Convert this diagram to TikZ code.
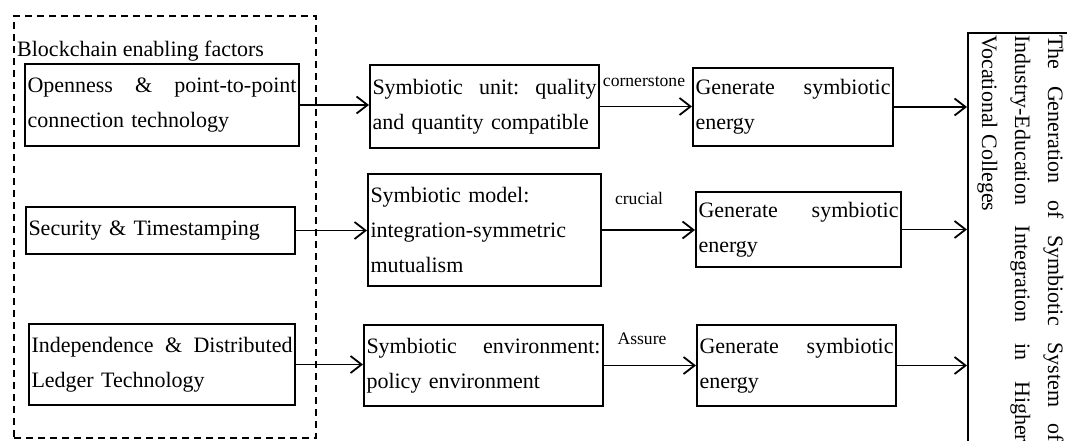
\documentclass[tikz,border=0pt]{standalone}
\usepackage{fontspec}
\setmainfont{Liberation Serif}
\usetikzlibrary{arrows.meta}
\tikzset{
  box/.style={draw, line width=2pt, inner xsep=2.5pt, inner ysep=0pt, align=left,
    anchor=north west, font=\fontsize{22}{35}\selectfont},
  frame/.style={draw, line width=1.7pt, dash pattern=on 7pt off 5pt, anchor=north west, inner sep=0pt},
  lbl/.style={inner sep=0pt, anchor=base, font=\fontsize{17.6}{20}\selectfont},
  ttl/.style={inner sep=0pt, anchor=base west, font=\fontsize{22}{33}\selectfont},
  vline/.style={inner sep=0pt, anchor=base west, rotate=-90, font=\fontsize{22}{33}\selectfont},
  arr/.style={line width=1.8pt, -{Straight Barb[length=11pt,width=17pt,line width=1.8pt]}}
}
\begin{document}
\begin{tikzpicture}[x=1pt,y=-1pt]
\useasboundingbox (0,0) rectangle (1067,441);
\clip (0,0) rectangle (1067,441);
% group frame
\node[frame, minimum width=302pt, minimum height=422pt] (grp) at (13,15) {};
\node[ttl] (grptitle) at (17,57) {Blockchain enabling factors};
% left boxes
\node[box, text width=269pt, minimum height=82pt] (b1) at (24,63)
  {Openness\hfill\&\hfill point-to-point\\connection technology};
\node[box, text width=264pt, minimum height=47pt] (b2) at (25,206)
  {Security \& Timestamping};
\node[box, text width=261pt, minimum height=81pt] (b3) at (28,323)
  {Independence\hfill\&\hfill Distributed\\Ledger Technology};
% middle boxes
\node[box, text width=224pt, minimum height=83pt] (s1) at (369,64)
  {Symbiotic\hfill unit:\hfill quality\\and quantity compatible};
\node[box, text width=228pt, minimum height=112pt] (s2) at (367,173)
  {Symbiotic model:\\integration-symmetric\\mutualism};
\node[box, text width=234pt, minimum height=81pt] (s3) at (363,324)
  {Symbiotic\hfill environment:\\policy environment};
% generate boxes
\node[box, text width=195pt, minimum height=78pt] (g1) at (692,67)
  {Generate\hfill symbiotic\\energy};
\node[box, text width=200pt, minimum height=75pt] (g2) at (695,191)
  {Generate\hfill symbiotic\\energy};
\node[box, text width=194pt, minimum height=81pt] (g3) at (696,324)
  {Generate\hfill symbiotic\\energy};
% goal box
\node[draw, line width=2.4pt, anchor=north west, inner sep=0pt,
  minimum width=130pt, minimum height=440pt] (goal) at (967,32) {};
\node[vline] (t1) at (1048,35) {\makebox[407pt][s]{The Generation of Symbiotic System of}};
\node[vline] (t2) at (1015,35) {\makebox[407pt][s]{Industry-Education Integration in Higher}};
\node[vline] (t3) at (982,35) {Vocational Colleges};
% labels
\node[lbl] (l1) at (644,87) {cornerstone};
\node[lbl] (l2) at (639,204) {crucial};
\node[lbl] (l3) at (642,344) {Assure};
% connectors
\draw[arr] (b1.east) -- (b1.east -| s1.west);
\draw[arr] (b2.east) -- (b2.east -| s2.west);
\draw[arr] (b3.east) -- (b3.east -| s3.west);
\draw[arr] (s1.east) -- (s1.east -| g1.west);
\draw[arr] (s2.east) -- (s2.east -| g2.west);
\draw[arr] (s3.east) -- (s3.east -| g3.west);
\draw[arr] (g1.east) -- (g1.east -| goal.west);
\draw[arr] (g2.east) -- (g2.east -| goal.west);
\draw[arr] (g3.east) -- (g3.east -| goal.west);
\end{tikzpicture}
\end{document}
